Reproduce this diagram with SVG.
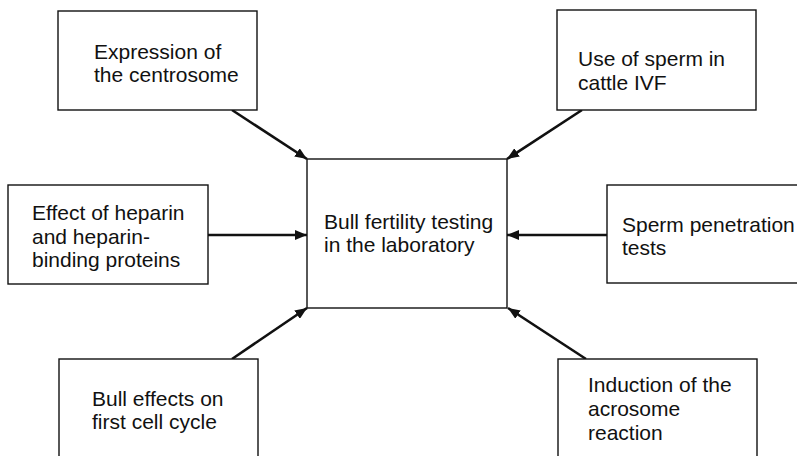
<svg xmlns="http://www.w3.org/2000/svg" width="797" height="456" viewBox="0 0 797 456">
<defs>
<style>
.box{fill:#fff;stroke:#111;stroke-width:1.4}
.t{font-family:"Liberation Sans",Arial,Helvetica,sans-serif;font-size:21px;fill:#111}
.c{stroke:#111;stroke-width:2.6;fill:none;marker-end:url(#ah)}
</style>
<marker id="ah" viewBox="0 0 12 10" refX="12" refY="5" markerWidth="12" markerHeight="10" markerUnits="userSpaceOnUse" orient="auto">
<path d="M0,0 L12,5 L0,10 Z" fill="#111"/>
</marker>
</defs>
<rect width="797" height="456" fill="#fff"/>
<g id="connectors">
<line class="c" x1="232" y1="110" x2="307" y2="159"/>
<line class="c" x1="582" y1="110" x2="507" y2="159"/>
<line class="c" x1="208" y1="235" x2="307" y2="235"/>
<line class="c" x1="608" y1="235" x2="507" y2="235"/>
<line class="c" x1="232" y1="359" x2="307" y2="308"/>
<line class="c" x1="586" y1="359" x2="508" y2="308"/>
</g>
<g id="center">
<rect class="box" x="307" y="159" width="200" height="149"/>
<text class="t" x="324" y="229">Bull fertility testing</text>
<text class="t" x="324" y="252">in the laboratory</text>
</g>
<g id="centrosome">
<rect class="box" x="58" y="11" width="199" height="99"/>
<text class="t" x="94" y="59">Expression of</text>
<text class="t" x="94" y="82">the centrosome</text>
</g>
<g id="ivf">
<rect class="box" x="557" y="10" width="199" height="100"/>
<text class="t" x="578" y="66">Use of sperm in</text>
<text class="t" x="578" y="90">cattle IVF</text>
</g>
<g id="heparin">
<rect class="box" x="8" y="185" width="200" height="99"/>
<text class="t" x="32" y="220">Effect of heparin</text>
<text class="t" x="32" y="244">and heparin-</text>
<text class="t" x="32" y="267">binding proteins</text>
</g>
<g id="penetration">
<rect class="box" x="607" y="185" width="200" height="98"/>
<text class="t" x="622" y="232">Sperm penetration</text>
<text class="t" x="622" y="255">tests</text>
</g>
<g id="cellcycle">
<rect class="box" x="59" y="359" width="199" height="110"/>
<text class="t" x="92" y="406">Bull effects on</text>
<text class="t" x="92" y="429">first cell cycle</text>
</g>
<g id="acrosome">
<rect class="box" x="558" y="359" width="199" height="110"/>
<text class="t" x="588" y="392">Induction of the</text>
<text class="t" x="588" y="416">acrosome</text>
<text class="t" x="588" y="440">reaction</text>
</g>
</svg>
